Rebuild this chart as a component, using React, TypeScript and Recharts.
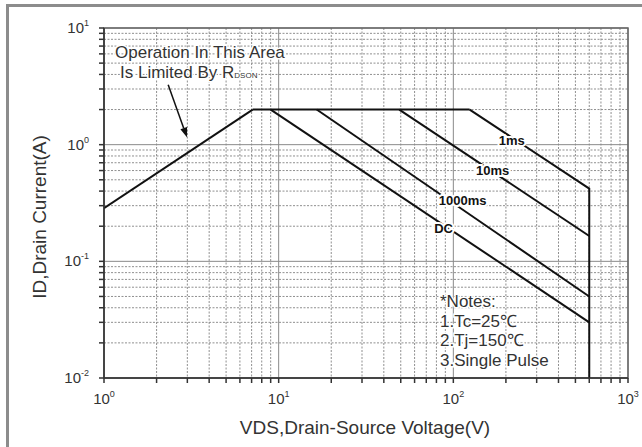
import { CartesianGrid, Line, LineChart, ReferenceArea, ReferenceDot, ReferenceLine, XAxis, YAxis } from "recharts"

// decades and the minor ticks between them
const X_DECADES = [1, 10, 100, 1000]
const Y_DECADES = [0.01, 0.1, 1, 10]
const STEPS = [2, 3, 4, 5, 6, 7, 8, 9]

const X_MINOR = X_DECADES.slice(0, -1).flatMap((d) => STEPS.map((s) => d * s))
const Y_MINOR = Y_DECADES.slice(0, -1).flatMap((d) => STEPS.map((s) => +(d * s).toPrecision(3)))
const X_TICKS = [...X_DECADES, ...X_MINOR].sort((a, b) => a - b)
const Y_TICKS = [...Y_DECADES, ...Y_MINOR].sort((a, b) => a - b)

// VDS (V) / ID (A)
const RDSON_LIMIT = [
  { v: 1, i: 0.285 },
  { v: 7.1, i: 2 },
]
const CURRENT_LIMIT = [
  { v: 7.1, i: 2 },
  { v: 124, i: 2 },
]
const PULSE_1MS = [
  { v: 124, i: 2 },
  { v: 600, i: 0.42 },
  { v: 600, i: 0.01 },
]
const PULSE_10MS = [
  { v: 49, i: 2 },
  { v: 600, i: 0.165 },
]
const PULSE_1000MS = [
  { v: 16.5, i: 2 },
  { v: 600, i: 0.05 },
]
const DC_LINE = [
  { v: 9, i: 2 },
  { v: 600, i: 0.03 },
]

const CURVE_LABELS = [
  { text: "1ms", v: 216, i: 1.08 },
  { text: "10ms", v: 168, i: 0.6 },
  { text: "1000ms", v: 113, i: 0.331 },
  { text: "DC", v: 88, i: 0.19 },
]

const ARROW = [
  { x: 2.33, y: 3.27 },
  { x: 2.99, y: 1.15 },
]

const NOTES = ["*Notes:", "1.Tc=25\u2103", "2.Tj=150\u2103", "3.Single Pulse"]

const FONT = "'Liberation Sans', Arial, sans-serif"
const INK = "#111"
const TEXT = "#333"

const isDecade = (value: number, decades: number[]) => decades.some((d) => Math.abs(d - value) < d * 1e-6)

const XTick = ({ x, y, payload }: any) => {
  if (!isDecade(payload.value, X_DECADES)) return null
  const exp = Math.round(Math.log10(payload.value))
  return (
    <text x={x} y={y + 20} textAnchor="middle" fontSize={15} fill={TEXT} fontFamily={FONT}>
      <tspan>10</tspan>
      <tspan dy={-7} fontSize={9}>
        {exp}
      </tspan>
    </text>
  )
}

const YTick = ({ x, y, payload }: any) => {
  if (!isDecade(payload.value, Y_DECADES)) return null
  const exp = Math.round(Math.log10(payload.value))
  return (
    <text x={x - 9} y={y + 5} textAnchor="end" fontSize={15} fill={TEXT} fontFamily={FONT}>
      <tspan>10</tspan>
      <tspan dy={-7} fontSize={9}>
        {exp}
      </tspan>
    </text>
  )
}

const Arrow = (props: any) => {
  const { x1, y1, x2, y2 } = props
  const ang = Math.atan2(y2 - y1, x2 - x1)
  const len = 10
  const half = 3.5
  const bx = x2 - len * Math.cos(ang)
  const by = y2 - len * Math.sin(ang)
  const px = -Math.sin(ang) * half
  const py = Math.cos(ang) * half
  return (
    <g>
      <line x1={x1} y1={y1} x2={bx} y2={by} stroke={INK} strokeWidth={1.5} />
      <polygon points={`${x2},${y2} ${bx + px},${by + py} ${bx - px},${by - py}`} fill={INK} />
    </g>
  )
}

const curveLabel = (text: string) => (props: any) => (
  <text
    x={props.cx}
    y={props.cy + 4}
    textAnchor="middle"
    fontSize={13}
    fontWeight="bold"
    fill={INK}
    stroke="#fff"
    strokeWidth={4}
    paintOrder="stroke"
    fontFamily={FONT}
  >
    {text}
  </text>
)

const haloText = {
  fill: TEXT,
  stroke: "#fff",
  strokeWidth: 3,
  paintOrder: "stroke" as const,
  fontFamily: FONT,
}

const App = () => {
  return (
    <div style={{ position: "absolute", left: 0, top: 0, width: 642, height: 447, background: "#fff" }}>
      <div
        style={{
          position: "absolute",
          left: 6,
          top: 4,
          width: 633,
          height: 440,
          borderTop: "3px solid #8c8c8c",
          borderLeft: "3px solid #8c8c8c",
        }}
      />
      <div style={{ position: "absolute", left: 0, top: 0 }}>
        <LineChart width={642} height={447} margin={{ top: 28, right: 14, left: 44, bottom: 39 }}>
          <CartesianGrid
            verticalValues={X_MINOR}
            horizontalValues={Y_MINOR}
            stroke="#8f8f8f"
            strokeDasharray="2 1.5"
          />
          <CartesianGrid verticalValues={X_DECADES} horizontalValues={Y_DECADES} stroke="#8a8a8a" />
          <ReferenceArea x1={1} x2={1000} y1={0.01} y2={10} fill="none" stroke="#666" strokeWidth={1.5} ifOverflow="visible" />
          <XAxis
            dataKey="v"
            type="number"
            scale="log"
            domain={[1, 1000]}
            ticks={X_TICKS}
            allowDataOverflow
            height={30}
            tickSize={5}
            tickMargin={1}
            tick={<XTick />}
            stroke="#333"
            strokeWidth={1.5}
            interval={0}
          />
          <YAxis
            dataKey="i"
            type="number"
            scale="log"
            domain={[0.01, 10]}
            ticks={Y_TICKS}
            allowDataOverflow
            width={60}
            tickSize={5}
            tickMargin={1}
            tick={<YTick />}
            stroke="#333"
            strokeWidth={1.5}
            interval={0}
          />
          {[RDSON_LIMIT, CURRENT_LIMIT, PULSE_1MS, PULSE_10MS, PULSE_1000MS, DC_LINE].map((series, idx) => (
            <Line
              key={idx}
              data={series}
              dataKey="i"
              type="linear"
              stroke={INK}
              strokeWidth={2}
              dot={false}
              activeDot={false}
              isAnimationActive={false}
            />
          ))}
          <ReferenceLine segment={ARROW} shape={<Arrow />} ifOverflow="visible" />
          {CURVE_LABELS.map((l) => (
            <ReferenceDot key={l.text} x={l.v} y={l.i} r={0} shape={curveLabel(l.text)} zIndex={2100} />
          ))}
        </LineChart>
      </div>
      <svg
        width={642}
        height={447}
        style={{ position: "absolute", left: 0, top: 0, pointerEvents: "none" }}
      >
        <text x={115} y={58} fontSize={17} {...haloText}>
          Operation In This Area
        </text>
        <text x={120} y={78} fontSize={17} {...haloText}>
          Is Limited By R
          <tspan fontSize={8}>DSON</tspan>
        </text>
        {NOTES.map((line, k) => (
          <text key={line} x={440} y={307 + k * 19.7} fontSize={17} {...haloText}>
            {line}
          </text>
        ))}
        <text x={365} y={434} textAnchor="middle" fontSize={19} fill={TEXT} fontFamily={FONT}>
          VDS,Drain-Source Voltage(V)
        </text>
        <text
          x={46}
          y={217}
          textAnchor="middle"
          fontSize={19}
          fill={TEXT}
          fontFamily={FONT}
          transform="rotate(-90 46 217)"
        >
          ID,Drain Current(A)
        </text>
      </svg>
    </div>
  )
}

export default App
